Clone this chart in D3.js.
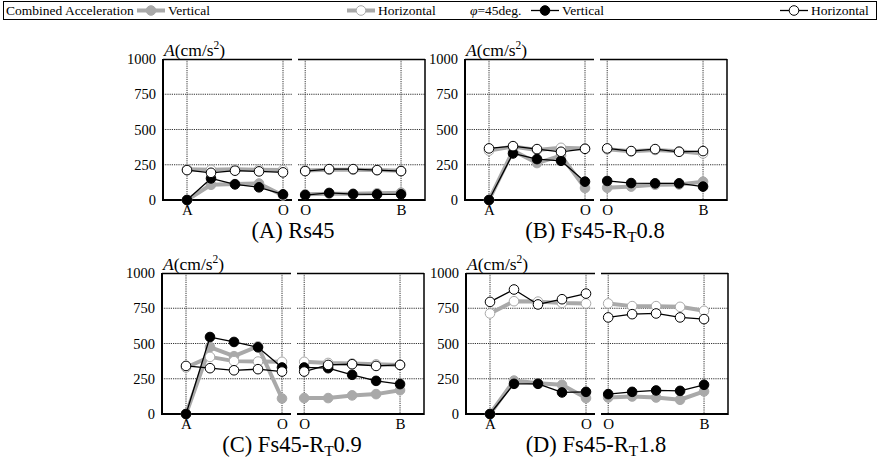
<!DOCTYPE html>
<html>
<head>
<meta charset="utf-8">
<script src="https://cdn.jsdelivr.net/npm/d3@7"></script>
<style>
  body { margin: 0; background: #fff; }
  svg { display: block; }
  svg text { font-family: 'Liberation Serif', 'DejaVu Serif', 'Noto Serif', serif; }
</style>
</head>
<body>
<svg id="chart" width="881" height="461"></svg>
<script>
// axis ticks and segment labels
const yTicks = [0, 250, 500, 750, 1000];
const labelsAO = ['A', '', '', '', 'O'];
const labelsOB = ['O', '', '', '', 'B'];

// each series: five points A..O, then five points O..B  (cm/s2)
const rs45CombV = [0, 108, 113, 117, 32, 40, 45, 45, 48, 52];
const rs45CombH = [218, 214, 218, 215, 212, 210, 215, 215, 212, 208];
const rs45PhiV = [0, 153, 111, 90, 40, 35, 50, 42, 40, 40];
const rs45PhiH = [212, 193, 208, 203, 196, 205, 219, 219, 212, 205];

const rt08CombV = [0, 350, 262, 315, 85, 87, 95, 108, 110, 130];
const rt08CombH = [350, 380, 355, 370, 365, 360, 345, 355, 345, 330];
const rt08PhiV = [0, 330, 290, 278, 130, 135, 120, 118, 118, 95];
const rt08PhiH = [366, 382, 361, 342, 363, 366, 347, 361, 342, 347];

const rt09CombV = [0, 475, 410, 480, 110, 113, 113, 132, 141, 169];
const rt09CombH = [330, 405, 375, 372, 370, 370, 362, 358, 352, 348];
const rt09PhiV = [0, 546, 511, 473, 330, 330, 325, 278, 235, 212];
const rt09PhiH = [341, 325, 310, 318, 301, 301, 348, 353, 341, 348];

const rt18CombV = [0, 237, 218, 207, 113, 117, 124, 117, 101, 160];
const rt18CombH = [713, 800, 797, 788, 784, 784, 765, 765, 760, 732];
const rt18PhiV = [0, 214, 214, 153, 157, 141, 157, 167, 164, 207];
const rt18PhiH = [795, 883, 777, 814, 854, 685, 708, 713, 685, 673];

const panelTitles = [
  ['(A) Rs45', '', ''],
  ['(B) Fs45-R', 'T', '0.8'],
  ['(C) Fs45-R', 'T', '0.9'],
  ['(D) Fs45-R', 'T', '1.8']
];
const panelSeries = [
  [rs45CombV, rs45CombH, rs45PhiV, rs45PhiH],
  [rt08CombV, rt08CombH, rt08PhiV, rt08PhiH],
  [rt09CombV, rt09CombH, rt09PhiV, rt09PhiH],
  [rt18CombV, rt18CombH, rt18PhiV, rt18PhiH]
];

const serif = "'Liberation Serif', 'DejaVu Serif', serif";
const gray = '#a9a9a9';
const styles = [
  {line: gray, width: 4, fill: gray, stroke: gray},
  {line: gray, width: 4, fill: '#fff', stroke: gray},
  {line: '#000', width: 1.3, fill: '#000', stroke: '#000'},
  {line: '#000', width: 1.3, fill: '#fff', stroke: '#000'}
];

const origins = [[163, 59], [465, 59], [162, 273], [466, 273]];
const plotH = 141;

const svg = d3.select('#chart');

const y = d3.scaleLinear().domain([0, 1000]).range([plotH, 0]);
const xAO = d3.scaleLinear().domain([-1, 4.375]).range([0, 129]);
const xOB = d3.scaleLinear().domain([-0.3, 5]).range([135, 262]);

// legend
const legend = svg.append('g').attr('font-family', serif).style('font-size', '13.5px');
legend.append('rect')
  .attr('x', 3.5).attr('y', 1.5).attr('width', 873).attr('height', 18)
  .attr('fill', 'none').attr('stroke', '#000').attr('stroke-width', 1);
legend.append('text').attr('x', 6).attr('y', 15).text('Combined Acceleration');
legend.append('text').attr('x', 470).attr('y', 15)
  .html('<tspan font-style="italic">φ</tspan>=45deg.');
const legendItems = [
  {x: 137, s: styles[0], label: 'Vertical'},
  {x: 347, s: styles[1], label: 'Horizontal'},
  {x: 531, s: styles[2], label: 'Vertical'},
  {x: 780, s: styles[3], label: 'Horizontal'}
];
legendItems.forEach(d => {
  legend.append('line')
    .attr('x1', d.x).attr('x2', d.x + 28).attr('y1', 10.5).attr('y2', 10.5)
    .attr('stroke', d.s.line).attr('stroke-width', d.s.width);
  legend.append('circle')
    .attr('cx', d.x + 14).attr('cy', 10.5).attr('r', 4.8)
    .attr('fill', d.s.fill).attr('stroke', d.s.stroke).attr('stroke-width', 1);
  legend.append('text').attr('x', d.x + 31).attr('y', 15).text(d.label);
});

panelSeries.forEach((series, p) => {
  const g = svg.append('g')
    .attr('transform', `translate(${origins[p][0]}, ${origins[p][1]})`);

  const segments = [
    {x: xAO, labels: labelsAO, from: 0, x0: 0, x1: 129},
    {x: xOB, labels: labelsOB, from: 5, x0: 135, x1: 262}
  ];

  // grid
  segments.forEach(seg => {
    g.append('g').selectAll('line')
      .data(yTicks.slice(1, -1))
      .join('line')
      .attr('x1', seg.x0).attr('x2', seg.x1)
      .attr('y1', d => y(d)).attr('y2', d => y(d))
      .attr('stroke', '#333').attr('stroke-width', 1)
      .attr('stroke-dasharray', '1.2,1');
    g.append('g').selectAll('line')
      .data([0, 4])
      .join('line')
      .attr('x1', d => seg.x(d)).attr('x2', d => seg.x(d))
      .attr('y1', 0).attr('y2', plotH)
      .attr('stroke', '#333').attr('stroke-width', 1)
      .attr('stroke-dasharray', '1.2,1');
    // top and bottom frame
    g.append('line')
      .attr('x1', seg.x0).attr('x2', seg.x1).attr('y1', 0.5).attr('y2', 0.5)
      .attr('stroke', '#000').attr('stroke-width', 1.5);
    g.append('line')
      .attr('x1', seg.x0).attr('x2', seg.x1).attr('y1', plotH).attr('y2', plotH)
      .attr('stroke', '#000').attr('stroke-width', 2.2);
    // x labels
    const xAxis = d3.axisBottom(seg.x)
      .tickValues([0, 4])
      .tickSize(0)
      .tickPadding(4)
      .tickFormat(d => seg.labels[d]);
    const xa = g.append('g').attr('transform', `translate(0, ${plotH})`).call(xAxis)
      .attr('font-family', serif).attr('font-size', 15);
    xa.select('.domain').remove();
    xa.selectAll('text').attr('fill', '#000');
  });

  g.append('line')
    .attr('x1', 0).attr('x2', 0).attr('y1', 0).attr('y2', plotH + 1)
    .attr('stroke', '#000').attr('stroke-width', 2);
  g.append('line')
    .attr('x1', 262).attr('x2', 262).attr('y1', 0).attr('y2', plotH + 1)
    .attr('stroke', '#000').attr('stroke-width', 1.5);

  // y axis
  const yAxis = d3.axisLeft(y).tickValues(yTicks).tickSize(0).tickPadding(7)
    .tickFormat(d3.format('d'));
  const ya = g.append('g').call(yAxis)
    .attr('font-family', serif).attr('font-size', 14.5);
  ya.select('.domain').remove();
  ya.selectAll('text').attr('fill', '#000');

  // y label
  const yl = g.append('text').attr('x', 1).attr('y', -3)
    .attr('font-family', serif).style('font-size', '17.5px');
  yl.append('tspan').attr('font-style', 'italic').text('A');
  yl.append('tspan').text('(cm/s');
  yl.append('tspan').attr('dy', -7).style('font-size', '11.5px').text('2');
  yl.append('tspan').attr('dy', 7).text(')');

  // series
  series.forEach((vals, si) => {
    const s = styles[si];
    segments.forEach(seg => {
      const pts = vals.slice(seg.from, seg.from + 5).map((v, i) => [seg.x(i), y(v)]);
      g.append('path')
        .attr('d', d3.line()(pts))
        .attr('fill', 'none')
        .attr('stroke', s.line)
        .attr('stroke-width', s.width)
        .attr('stroke-linejoin', 'round');
      g.append('g').selectAll('circle')
        .data(pts)
        .join('circle')
        .attr('cx', d => d[0]).attr('cy', d => d[1]).attr('r', 4.8)
        .attr('fill', s.fill).attr('stroke', s.stroke).attr('stroke-width', 1);
    });
  });

  // title
  const t = panelTitles[p];
  const title = g.append('text')
    .attr('x', 130).attr('y', plotH + 38)
    .attr('text-anchor', 'middle')
    .attr('font-family', serif)
    .style('font-size', '22.5px');
  title.append('tspan').text(t[0]);
  if (t[1]) {
    title.append('tspan').attr('dy', 4).style('font-size', '15.5px').text(t[1]);
    title.append('tspan').attr('dy', -4).text(t[2]);
  }
});
</script>
</body>
</html>
